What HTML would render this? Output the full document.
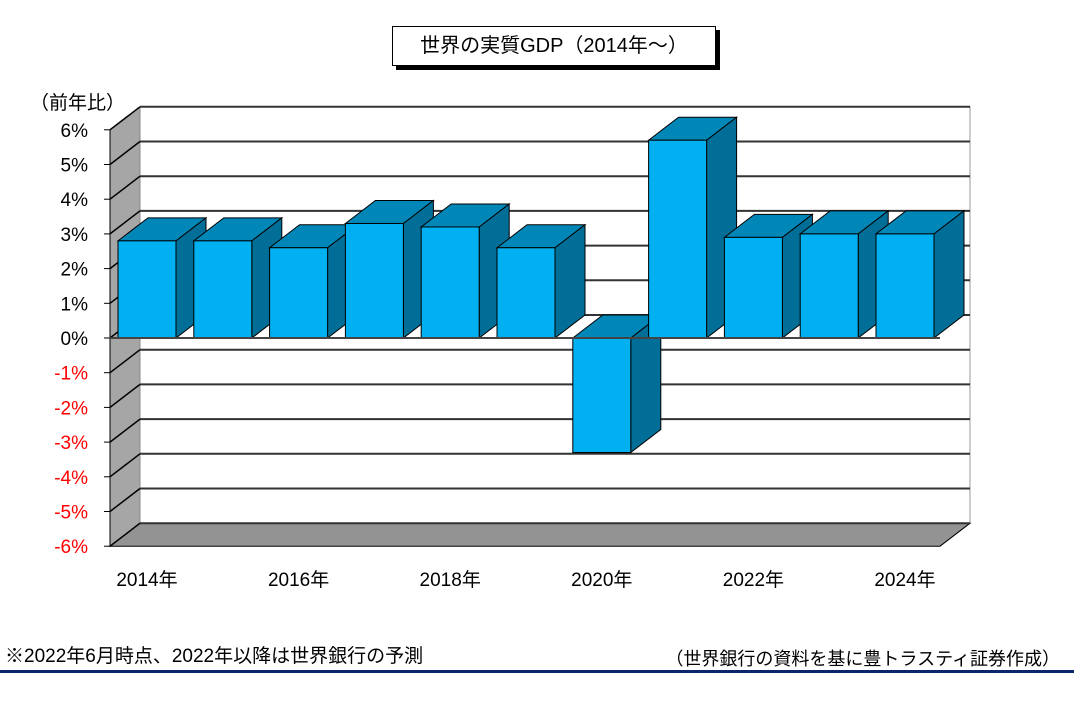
<!DOCTYPE html>
<html><head><meta charset="utf-8"><style>
body{margin:0;background:#fff;width:1074px;height:707px;overflow:hidden;font-family:"Liberation Sans","Noto Sans CJK JP",sans-serif}
svg text{font-family:"Liberation Sans","Noto Sans CJK JP",sans-serif}
</style></head><body>
<svg width="1074" height="707">
<g id="g"></g>
</svg>
<script>
const categories=["2014","2015","2016","2017","2018","2019","2020","2021","2022","2023","2024"];
const values=[2.8,2.8,2.6,3.3,3.2,2.6,-3.3,5.7,2.9,3.0,3.0];
const ticks=[6,5,4,3,2,1,0,-1,-2,-3,-4,-5,-6];
const xLabels=["2014年","2016年","2018年","2020年","2022年","2024年"];
const NS="http://www.w3.org/2000/svg";
const g=document.getElementById('g');
const X0=110,X1=940,DX=30,DY=23,Y0=338,U=34.7;
function y(v){return Y0-v*U;}
function xi(i){return 118+i*75.8;}
function el(t,a,p){const e=document.createElementNS(NS,t);for(const k in a)e.setAttribute(k,a[k]);(p||g).appendChild(e);return e;}
// back wall
const bw=el('rect',{x:X0+DX,y:y(6)-DY,width:X1-X0,height:12*U,fill:'#fff',stroke:'#999'});

// left wall
const lw=el('polygon',{points:`${X0},${y(6)} ${X0+DX},${y(6)-DY} ${X0+DX},${y(-6)-DY} ${X0},${y(-6)}`,fill:'#a6a6a6',stroke:'#888'});

// floor
const fl=el('polygon',{points:`${X0},${y(-6)} ${X1},${y(-6)} ${X1+DX},${y(-6)-DY} ${X0+DX},${y(-6)-DY}`,fill:'#939393',stroke:'#000'});

ticks.forEach(t=>{
 const gl=el('line',{x1:X0+DX,x2:X1+DX,y1:y(t)-DY,y2:y(t)-DY,stroke:'#333','stroke-width':2});
 
 el('line',{x1:X0,x2:X0+DX,y1:y(t),y2:y(t)-DY,stroke:'#000','stroke-width':1.5});
 el('line',{x1:X0-6,x2:X0,y1:y(t),y2:y(t),stroke:'#000'});
 const tx=el('text',{x:X0-22,y:y(t)+7,'text-anchor':'end','font-size':19,fill:t<0?'#ff0000':'#000'});
 tx.textContent=t+'%';
 
});
el('line',{x1:X0,x2:X0,y1:y(6),y2:y(-6),stroke:'#000'});
values.forEach((v,i)=>{
 const x=xi(i),w=58,top=y(Math.max(v,0)),bot=y(Math.min(v,0));
 const b=el('g',{});
 
 el('polygon',{points:`${x},${top} ${x+DX},${top-DY} ${x+w+DX},${top-DY} ${x+w},${top}`,fill:'#0087b8',stroke:'#000'},b);
 el('polygon',{points:`${x+w},${top} ${x+w+DX},${top-DY} ${x+w+DX},${bot-DY} ${x+w},${bot}`,fill:'#006e96',stroke:'#000'},b);
 el('rect',{x:x,y:top,width:w,height:bot-top,fill:'#00b0f0',stroke:'#000'},b);
});
const zl=el('line',{x1:X0,x2:X1,y1:Y0,y2:Y0,stroke:'#444','stroke-width':2});

xLabels.forEach((l,k)=>{
 const t=el('text',{x:xi(k*2)+29,y:586,'text-anchor':'middle','font-size':19});
 t.textContent=l;
});
</script>
<div style="position:absolute;left:30px;top:88px;font-size:19px">（前年比）</div>
<div style="position:absolute;left:392px;top:26px;width:322px;height:38px;border:1px solid #000;box-shadow:4px 4px 0 #000;background:#fff;font-size:20px;line-height:38px;text-align:center">世界の実質GDP（2014年～）</div>
<div style="position:absolute;left:5px;top:641px;font-size:19px">※2022年6月時点、2022年以降は世界銀行の予測</div>
<div style="position:absolute;right:14px;top:645px;font-size:18px">（世界銀行の資料を基に豊トラスティ証券作成）</div>
<div style="position:absolute;left:0;top:670px;width:1074px;height:3px;background:#0c2468"></div>
</body></html>
